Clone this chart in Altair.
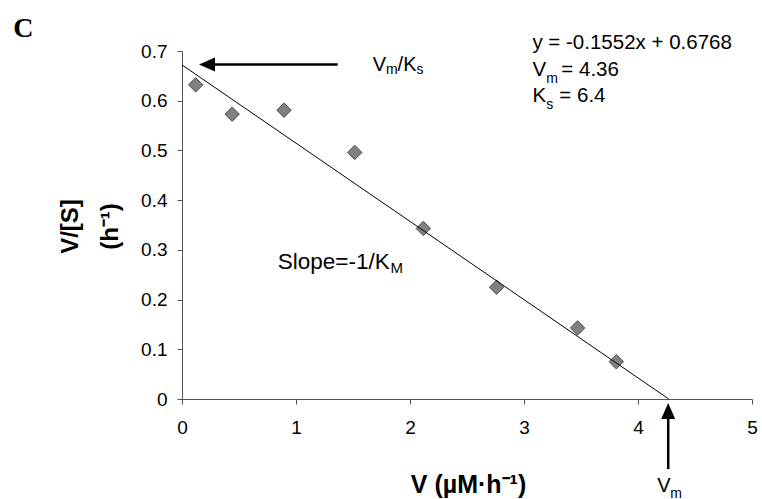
import altair as alt
import pandas as pd

# ---- data ----
v_rate = [0.12, 0.44, 0.895, 1.515, 2.117, 2.76, 3.47, 3.81]
v_over_s = [0.632, 0.573, 0.581, 0.496, 0.343, 0.225, 0.143, 0.075]

fit_x = [0.0, 4.27]
fit_y = [0.672, 0.0]

x_ticks = [0, 1, 2, 3, 4, 5]
y_ticks = [0, 0.1, 0.2, 0.3, 0.4, 0.5, 0.6, 0.7]

# arrows (data coordinates)
h_arrow_tip = [0.149, 0.673]      # x, y of tip
h_arrow_tail_x = 1.366
h_arrow_shaft_start_x = 0.22
v_arrow_tip = [4.265, -0.008]     # x, y of tip
v_arrow_tail_y = -0.141
v_arrow_shaft_start_y = -0.03

# text annotations (left aligned, alphabetic baseline)
ann_text = ["V", "m", "/K", "s",
            "y = -0.1552x + 0.6768",
            "V", "m", "= 4.36",
            "K", "s", "= 6.4",
            "Slope=-1/K", "M",
            "V", "m"]
ann_x = [1.6725, 1.789, 1.891, 2.058,
         3.0736,
         3.0736, 3.196, 3.3275,
         3.0736, 3.196, 3.310,
         0.8406, 1.830,
         4.168, 4.282]
ann_y = [0.6598, 0.6538, 0.6598, 0.6538,
         0.7041,
         0.6498, 0.6357, 0.6498,
         0.5975, 0.5834, 0.5975,
         0.2615, 0.2535,
         -0.1871, -0.1992]
ann_size = [20, 14, 20, 14,
            20.5,
            20.5, 14, 20.5,
            20.5, 14, 20.5,
            22.5, 15,
            20, 14]

panel_text = ["C"]
panel_x = [-1.48]
panel_y = [0.7282]

FONT = "Liberation Sans"
xs = alt.Scale(domain=[0, 5], nice=False, zero=False)
ys = alt.Scale(domain=[0, 0.7], nice=False, zero=False)

pts_df = pd.DataFrame({"v": v_rate, "vs": v_over_s})
fit_df = pd.DataFrame({"x": fit_x, "y": fit_y})
ann_df = pd.DataFrame({"t": ann_text, "x": ann_x, "y": ann_y, "s": ann_size})
panel_df = pd.DataFrame({"t": panel_text, "x": panel_x, "y": panel_y})
h_shaft = pd.DataFrame({"x": [h_arrow_shaft_start_x], "x2": [h_arrow_tail_x], "y": [h_arrow_tip[1]]})
v_shaft = pd.DataFrame({"x": [v_arrow_tip[0]], "y": [v_arrow_shaft_start_y], "y2": [v_arrow_tail_y]})
h_head = pd.DataFrame({"x": [h_arrow_tip[0]], "y": [h_arrow_tip[1]]})
v_head = pd.DataFrame({"x": [v_arrow_tip[0]], "y": [v_arrow_tip[1]]})

x_axis = alt.Axis(
    values=x_ticks, format="~g", grid=False, tickSize=5, labelPadding=14,
    labelFontSize=19, labelFont=FONT, labelColor="black", labelFlush=False,
    domainColor="#555555", tickColor="#555555",
    title="V (µM·h⁻¹)", titleFont=FONT, titleFontSize=25, titleFontWeight="bold",
    titleColor="black", titleX=286, titleY=93, titleAlign="center",
    titleBaseline="alphabetic", titleAngle=0,
)
y_axis = alt.Axis(
    values=y_ticks, format="~g", grid=False, tickSize=5, labelPadding=10,
    labelFontSize=19, labelFont=FONT, labelColor="black", labelFlush=False,
    domainColor="#555555", tickColor="#555555",
    title=["V/[S]", "(h⁻¹)"], titleFont=FONT, titleFontSize=24, titleFontWeight="bold",
    titleColor="black", titleX=-112, titleY=175, titleAlign="center",
    titleBaseline="middle", titleAngle=270, titleLineHeight=40,
)


def X(field):
    return alt.X(field, type="quantitative", scale=xs, axis=x_axis)


def Y(field):
    return alt.Y(field, type="quantitative", scale=ys, axis=y_axis)


points = alt.Chart(pts_df).mark_point(
    shape="diamond", filled=True, fill="#808080", stroke="#333333",
    strokeWidth=0.8, size=210, opacity=1
).encode(x=X("v"), y=Y("vs"))

fit = alt.Chart(fit_df).mark_line(color="black", strokeWidth=1).encode(
    x=X("x"), y=Y("y"))

hs = alt.Chart(h_shaft).mark_rule(color="black", strokeWidth=2.5).encode(
    x=X("x"), x2="x2:Q", y=Y("y"))
vsh = alt.Chart(v_shaft).mark_rule(color="black", strokeWidth=2.5).encode(
    x=X("x"), y=Y("y"), y2="y2:Q")
hh = alt.Chart(h_head).mark_point(
    shape="M-1,0L1,-0.875L1,0.875Z", filled=True, color="black", opacity=1,
    size=256, xOffset=8, strokeWidth=0
).encode(x=X("x"), y=Y("y"))
vh = alt.Chart(v_head).mark_point(
    shape="M0,-1L-0.875,1L0.875,1Z", filled=True, color="black", opacity=1,
    size=256, yOffset=8, strokeWidth=0
).encode(x=X("x"), y=Y("y"))

texts = alt.Chart(ann_df).mark_text(
    align="left", baseline="alphabetic", font=FONT, color="black"
).encode(
    x=X("x"), y=Y("y"), text="t:N",
    size=alt.Size("s:Q", scale=None, legend=None),
)

panel = alt.Chart(panel_df).mark_text(
    align="left", baseline="alphabetic", font="Liberation Serif",
    fontWeight="bold", fontSize=28, color="black"
).encode(x=X("x"), y=Y("y"), text="t:N")

chart = alt.layer(points, fit, hs, vsh, hh, vh, texts, panel).properties(
    width=570, height=348,
    autosize=alt.AutoSizeParams(type="none"),
    padding={"left": 182, "top": 51, "right": 10, "bottom": 100},
    background="white",
).configure_view(stroke=None)

chart.save("out.html", embed_options={"renderer": "svg", "actions": False})
